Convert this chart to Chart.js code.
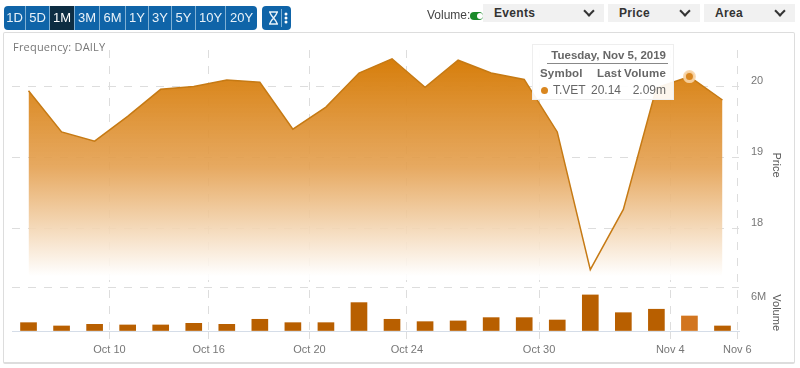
<!DOCTYPE html>
<html lang="en">
<head>
  <meta charset="UTF-8">
  <title>T.VET 1M</title>
  <script src="https://cdn.jsdelivr.net/npm/chart.js"></script>
  <style>
    html, body { margin: 0; padding: 0; background: #fff; overflow: hidden; }
    body { width: 800px; height: 368px; position: relative; font-family: "Liberation Sans", Arial, sans-serif; }
    #frame { position: absolute; left: 3px; top: 32px; width: 790px; height: 329px; border: 1px solid #ddd; border-bottom-width: 2px; border-radius: 2px; }
    canvas { position: absolute; left: 0; top: 0; }
    #freq { position: absolute; left: 13px; top: 39px; font: 11px "Open Sans", sans-serif; color: #777; letter-spacing: .2px; }
    .btns { position: absolute; top: 6px; height: 24px; background: #0f64a8; border-radius: 4px; overflow: hidden; }
    .btns span { position: absolute; top: 0; height: 24px; line-height: 24px; text-align: center; color: #e8f1f8; font-size: 13px; border-right: 1px solid #7fb0d4; box-sizing: border-box; }
    .btns span.on { background: #0d2d42; color: #fff; }
    .btns span:last-child { border-right: 0; }
    #volLabel { position: absolute; left: 427px; top: 8px; font-size: 12px; color: #444; }
    #toggle { position: absolute; left: 470px; top: 12px; width: 13px; height: 8px; background: #1a8a2a; border-radius: 4px; }
    #toggle i { position: absolute; right: 0; top: 1px; width: 6px; height: 6px; background: #fff; border-radius: 3px; }
    .drop { position: absolute; top: 4px; height: 18px; line-height: 18px; background: #f1f1f1; font-size: 12px; font-weight: bold; color: #333; letter-spacing: .3px; box-sizing: border-box; padding-left: 11px; }
    .drop i { position: absolute; right: 11px; top: 3px; width: 6px; height: 6px; border-right: 2px solid #333; border-bottom: 2px solid #333; transform: rotate(45deg); }
    #tip { position: absolute; left: 532px; top: 44px; width: 142px; height: 56px; box-sizing: border-box; background: rgba(255,255,255,.92); border: 1px solid #eee; font-size: 11.5px; color: #666; }
    #tip div { position: absolute; white-space: nowrap; }
    #tipDate { right: 5px; top: 4px; font-weight: bold; border-bottom: 1px solid #888; padding: 0 2px 2px 4px; }
    #tip .h { font-weight: bold; top: 22px; letter-spacing: .2px; }
    #tip .v { top: 38px; font-size: 12px; }
    #tipDot { left: 8px; top: 42px; width: 7px; height: 7px; border-radius: 50%; background: #d9861f; }
  </style>
</head>
<body>
  <div id="frame"></div>
  <canvas id="priceChart" width="800" height="368"></canvas>
  <div id="freq">Frequency: DAILY</div>

  <div class="btns" id="ranges" style="left:4px;width:253px"></div>
  <div class="btns" style="left:262px;width:29px">
    <svg width="20" height="24" style="position:absolute;left:2px;top:0" fill="none" stroke="#e8f1f8" stroke-width="1.4">
      <path d="M5 6h9M5 18h9M6 6c0 4 7 8 7 12M13 6c0 4-7 8-7 12"/>
    </svg>
    <svg width="9" height="24" style="position:absolute;left:19px;top:0">
      <line x1="0.5" y1="3" x2="0.5" y2="21" stroke="#7fb0d4"/>
      <circle cx="5" cy="8" r="1.5" fill="#fff"/><circle cx="5" cy="12" r="1.5" fill="#fff"/><circle cx="5" cy="16" r="1.5" fill="#fff"/>
    </svg>
  </div>

  <div id="volLabel">Volume:</div>
  <div id="toggle"><i></i></div>
  <div class="drop" style="left:483px;width:121px">Events<i></i></div>
  <div class="drop" style="left:608px;width:92px">Price<i></i></div>
  <div class="drop" style="left:704px;width:91px">Area<i></i></div>

  <div id="tip">
    <div id="tipDate"></div>
    <div class="h" style="left:7px">Symbol</div>
    <div class="h" style="left:64px">Last</div>
    <div class="h" style="right:7px">Volume</div>
    <div id="tipDot"></div>
    <div class="v" id="tipSym" style="left:20px"></div>
    <div class="v" id="tipLast" style="left:58px"></div>
    <div class="v" id="tipVol" style="right:7px"></div>
  </div>

  <script>
    const ranges = ['1D', '5D', '1M', '3M', '6M', '1Y', '3Y', '5Y', '10Y', '20Y'];
    const rangeWidths = [22, 24, 25, 25, 26, 23, 23, 24, 30, 31];

    const dates = ['Oct 7', 'Oct 8', 'Oct 9', 'Oct 10', 'Oct 11', 'Oct 15', 'Oct 16', 'Oct 17', 'Oct 18', 'Oct 21', 'Oct 22',
      'Oct 23', 'Oct 24', 'Oct 25', 'Oct 28', 'Oct 29', 'Oct 30', 'Oct 31', 'Nov 1', 'Nov 4', 'Nov 5', 'Nov 6'];
    const price = [19.94, 19.36, 19.23, 19.58, 19.96, 20.0, 20.09, 20.06, 19.4, 19.71, 20.19,
      20.39, 19.99, 20.37, 20.19, 20.1, 19.36, 17.42, 18.27, 19.98, 20.14, 19.81];
    const volume = [1.16, 0.7, 0.93, 0.84, 0.84, 1.07, 0.93, 1.63, 1.16, 1.16, 3.95,
      1.63, 1.3, 1.4, 1.86, 1.86, 1.53, 5.02, 2.55, 3.03, 2.09, 0.7];

    const xTickSpots = [2.45, 5.45, 8.5, 11.45, 15.45, 19.42, 21.45];
    const xTickLabels = ['Oct 10', 'Oct 16', 'Oct 20', 'Oct 24', 'Oct 30', 'Nov 4', 'Nov 6'];
    const priceTicks = [18, 19, 20];
    const volumeTicks = [0, 6];
    const hoverIndex = 20;

    // toolbar + tooltip text
    let left = 0;
    ranges.forEach((r, i) => {
      const s = document.createElement('span');
      s.textContent = r;
      s.style.left = left + 'px';
      s.style.width = rangeWidths[i] + 'px';
      if (r === '1M') s.className = 'on';
      document.getElementById('ranges').appendChild(s);
      left += rangeWidths[i];
    });
    document.getElementById('tipDate').textContent = 'Tuesday, Nov 5, 2019';
    document.getElementById('tipSym').textContent = 'T.VET';
    document.getElementById('tipLast').textContent = price[hoverIndex].toFixed(2);
    document.getElementById('tipVol').textContent = volume[hoverIndex].toFixed(2) + 'm';

    const tickFont = { family: '"Liberation Sans", Arial, sans-serif', size: 11 };

    function areaFill(ctx) {
      const area = ctx.chart.chartArea;
      if (!area) return '#d9820f';
      const s = ctx.chart.scales.yPrice;
      const g = ctx.chart.ctx.createLinearGradient(0, s.getPixelForValue(20.4), 0, s.bottom - 4);
      g.addColorStop(0, 'rgba(214,125,10,1)');
      g.addColorStop(0.5, 'rgba(228,160,80,0.9)');
      g.addColorStop(1, 'rgba(255,255,255,0.9)');
      return g;
    }

    new Chart(document.getElementById('priceChart').getContext('2d'), {
      type: 'bar',
      data: {
        labels: dates,
        datasets: [{
          type: 'line',
          label: 'Price',
          yAxisID: 'yPrice',
          data: price.map((v, i) => ({ x: i, y: v })),
          borderColor: '#c67a14',
          borderWidth: 1.5,
          backgroundColor: areaFill,
          fill: 'start',
          tension: 0,
          pointRadius: (c) => (c.dataIndex === hoverIndex ? 5 : 0),
          pointBackgroundColor: '#d9861f',
          pointBorderColor: 'rgba(248,214,170,0.9)',
          pointBorderWidth: 3
        }, {
          type: 'bar',
          label: 'Volume',
          yAxisID: 'yVolume',
          data: volume.map((v, i) => ({ x: i, y: v })),
          backgroundColor: (c) => (c.dataIndex === hoverIndex ? '#d2751f' : '#b85f00'),
          barThickness: 16
        }]
      },
      options: {
        responsive: false,
        animation: false,
        layout: { autoPadding: false, padding: { left: 12, top: 50, right: 17, bottom: 0 } },
        plugins: { legend: { display: false }, tooltip: { enabled: false } },
        scales: {
          x: {
            type: 'linear',
            offset: false,
            min: -0.5,
            max: 21.5,
            afterBuildTicks: (s) => { s.ticks = xTickSpots.map((v) => ({ value: v })); },
            afterFit: (s) => { s.height = 37; },
            grid: { offset: false, color: '#ddd', tickLength: 8, tickColor: '#ddd' },
            border: { display: true, color: '#d5dde8', dash: [8, 8] },
            ticks: {
              autoSkip: false,
              maxRotation: 0,
              color: '#777',
              font: tickFont,
              padding: 4,
              callback: (v) => xTickLabels[xTickSpots.indexOf(v)]
            }
          },
          yPrice: {
            position: 'right',
            stack: 'right',
            stackWeight: 230,
            min: 17.275,
            max: 20.514,
            afterBuildTicks: (s) => { s.ticks = priceTicks.map((v) => ({ value: v })); },
            afterFit: (s) => { s.width = 44; },
            grid: { color: '#ddd', drawTicks: false },
            border: { display: false, dash: [8, 8] },
            ticks: { color: '#777', font: tickFont, padding: 12, labelOffset: -6 },
            title: { display: true, text: 'Price', color: '#555', font: tickFont, padding: 0 }
          },
          yVolume: {
            position: 'right',
            stack: 'right',
            stackWeight: 51,
            min: 0,
            max: 7.1,
            afterBuildTicks: (s) => { s.ticks = volumeTicks.map((v) => ({ value: v })); },
            afterFit: (s) => { s.width = 44; },
            grid: {
              color: (c) => (c.tick.value === 0 ? 'rgba(0,0,0,0)' : '#ddd'),
              drawTicks: false
            },
            border: { display: false, dash: [8, 8] },
            ticks: {
              color: '#777',
              font: tickFont,
              padding: 12,
              labelOffset: 9,
              callback: (v) => (v === 0 ? '' : v + 'M')
            },
            title: { display: true, text: 'Volume', color: '#555', font: tickFont, padding: 0, align: 'start' }
          }
        }
      }
    });
  </script>
</body>
</html>
